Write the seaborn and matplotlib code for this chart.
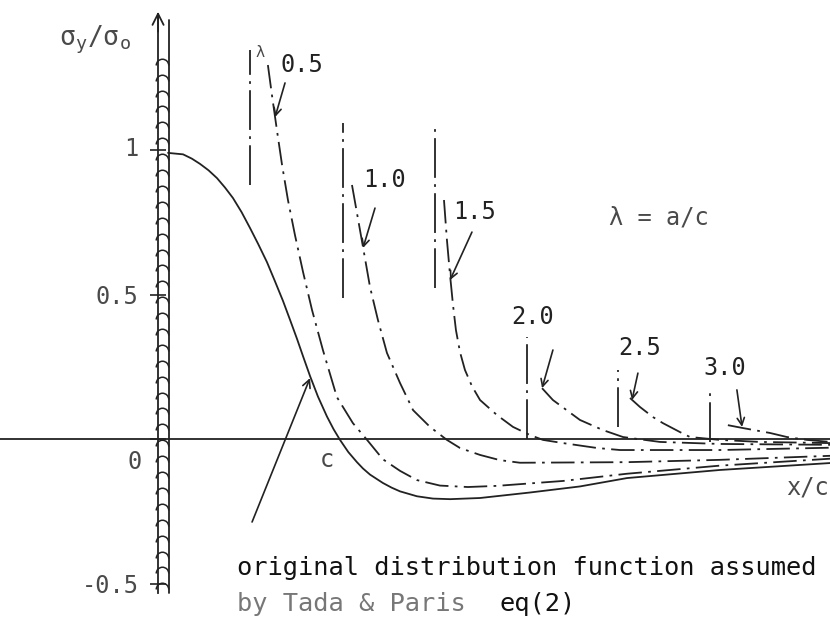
import numpy as np
import pandas as pd
import matplotlib
matplotlib.use("Agg")
import matplotlib.pyplot as plt
import seaborn as sns
from matplotlib.path import Path
from matplotlib.transforms import ScaledTranslation

# ---------------- data (x in x/c-like units) ----------------
x_orig = [0.0, 0.082, 0.13, 0.174, 0.22, 0.266, 0.31, 0.353, 0.40, 0.446, 0.49, 0.538,
          0.58, 0.625, 0.663, 0.701, 0.737, 0.772, 0.815, 0.864, 0.90, 0.935, 0.98,
          1.027, 1.06, 1.098, 1.168, 1.215, 1.261, 1.353, 1.44, 1.533, 1.696, 1.967,
          2.239, 2.495, 3.0, 3.6]
y_orig = [0.99, 0.985, 0.97, 0.952, 0.93, 0.903, 0.87, 0.834, 0.785, 0.730, 0.675, 0.612,
          0.548, 0.478, 0.413, 0.347, 0.281, 0.218, 0.147, 0.078, 0.034, -0.003, -0.045,
          -0.080, -0.102, -0.123, -0.152, -0.168, -0.181, -0.198, -0.206, -0.208, -0.204,
          -0.185, -0.164, -0.135, -0.107, -0.083]

x_l05 = [0.543, 0.565, 0.592, 0.620, 0.652, 0.690, 0.734, 0.783, 0.842, 0.918, 1.005,
         1.082, 1.168, 1.261, 1.353, 1.478, 1.63, 1.788, 2.147, 2.495, 3.0, 3.6]
y_l05 = [1.294, 1.190, 1.069, 0.948, 0.827, 0.706, 0.578, 0.446, 0.308, 0.145, 0.055,
         -0.003, -0.07, -0.11, -0.142, -0.161, -0.166, -0.162, -0.145, -0.120, -0.092,
         -0.068]

x_l10 = [1.0, 1.06, 1.098, 1.141, 1.19, 1.261, 1.332, 1.424, 1.516, 1.587, 1.696,
         1.804, 1.913, 2.495, 3.0, 3.6]
y_l10 = [0.879, 0.664, 0.526, 0.412, 0.298, 0.194, 0.100, 0.042, -0.003, -0.031,
         -0.055, -0.073, -0.082, -0.08, -0.072, -0.058]

x_l15 = [1.50, 1.516, 1.533, 1.549, 1.565, 1.587, 1.614, 1.652, 1.696, 1.788, 1.875,
         1.967, 2.038, 2.147, 2.332, 2.457, 3.0, 3.6]
y_l15 = [0.827, 0.689, 0.567, 0.464, 0.377, 0.301, 0.239, 0.183, 0.135, 0.083, 0.042,
         0.014, -0.003, -0.014, -0.031, -0.038, -0.038, -0.03]

x_l20 = [2.033, 2.092, 2.239, 2.364, 2.473, 2.674, 3.0, 3.6]
y_l20 = [0.176, 0.135, 0.066, 0.031, 0.007, -0.01, -0.017, -0.02]

x_l25 = [2.511, 2.565, 2.636, 2.69, 2.783, 2.837, 3.0, 3.217, 3.6]
y_l25 = [0.142, 0.111, 0.076, 0.055, 0.024, 0.007, -0.003, -0.01, -0.014]

x_l30 = [3.043, 3.125, 3.272, 3.364, 3.473, 3.6]
y_l30 = [0.048, 0.038, 0.021, 0.007, -0.003, -0.01]

lambda_labels = ["0.5", "1.0", "1.5", "2.0", "2.5", "3.0"]
crack_x = [0.446, 0.951, 1.451, 1.951, 2.446, 2.946]
crack_top = [1.346, 1.093, 1.080, 0.353, 0.239, 0.170]
crack_bot = [0.879, 0.488, 0.522, 0.0, 0.042, -0.010]

ytick_vals = [-0.5, 0.0, 0.5, 1.0]
ytick_labels = ["-0.5", "0", "0.5", "1"]

# ---------------- style ----------------
sns.set_theme(style="white")
plt.rcParams["font.family"] = ["DejaVu Sans Mono", "DejaVu Sans"]
plt.rcParams["mathtext.fontset"] = "dejavusans"

INK = "#222222"
GREY = "#4a4a4a"
LW = 1.3
curve_dash = (0, (13, 3.5, 1.5, 3.5))
vert_dash = (0, (22, 3.5, 1.5, 3.5))
FS = 17

fig = plt.figure(figsize=(8.3, 6.22), dpi=100)
ax = fig.add_axes([0, 0, 1, 1])
ax.set_facecolor("white")
ax.set_xlim(-0.913, 3.598)
ax.set_ylim(-0.633, 1.519)

# zero line
ax.axhline(0, color=INK, lw=LW)

# original distribution (solid)
sns.lineplot(x=x_orig, y=y_orig, ax=ax, color=INK, lw=LW, sort=False, estimator=None)

# redistributed curves (dash-dot)
curves = [(x_l05, y_l05), (x_l10, y_l10), (x_l15, y_l15),
          (x_l20, y_l20), (x_l25, y_l25), (x_l30, y_l30)]
for cx, cy in curves:
    sns.lineplot(x=cx, y=cy, ax=ax, color=INK, lw=LW, sort=False,
                 estimator=None, linestyle=curve_dash)

# crack-tip vertical dash-dot lines
for xv, yt, yb in zip(crack_x, crack_top, crack_bot):
    ax.plot([xv, xv], [yb, yt], color=INK, lw=LW, linestyle=vert_dash)

# ---------------- axis ----------------
axis_x = -0.054
for s in ["top", "right", "bottom"]:
    ax.spines[s].set_visible(False)
ax.spines["left"].set_position(("data", axis_x))
ax.spines["left"].set_bounds(-0.533, 1.47)
ax.spines["left"].set_color(INK)
ax.spines["left"].set_linewidth(LW)
ax.annotate("", xy=(axis_x, 1.488), xytext=(axis_x, 1.40),
            arrowprops=dict(arrowstyle="->", lw=LW, color=INK, mutation_scale=20))
ax.plot([0.005, 0.005], [-0.533, 1.45], color=INK, lw=LW)

# hatch arcs along the boundary
arc = Path.arc(0, 180)
hatch_y = np.arange(-0.52, 1.30, 0.055)
ax.plot(np.full_like(hatch_y, -0.030), hatch_y, linestyle="none", marker=arc,
        markersize=9, markerfacecolor="none", markeredgecolor=INK, markeredgewidth=1.1)

ax.set_xticks([])
ax.set_yticks(ytick_vals, labels=ytick_labels)
ax.tick_params(axis="y", left=True, direction="inout", length=12, width=1.2,
               color=INK, pad=8, labelsize=FS, labelcolor=GREY)
for lab in ax.get_yticklabels():
    if lab.get_text() == "0":
        lab.set_transform(lab.get_transform() + ScaledTranslation(0.03, -0.20, fig.dpi_scale_trans))
    if lab.get_text() == "1":
        lab.set_transform(lab.get_transform() + ScaledTranslation(0.0, 0.04, fig.dpi_scale_trans))
ax.grid(False)

# ---------------- labels ----------------
ax.text(-0.397, 1.381, r"$\mathregular{σ_y/σ_o}$", fontsize=19, color=GREY,
        ha="center", va="center")
ax.text(0.50, 1.336, "λ", fontsize=11, color=GREY, ha="center", va="center")

label_pos = [(0.728, 1.294), (1.179, 0.896), (1.668, 0.785),
             (1.984, 0.422), (2.565, 0.315), (3.027, 0.246)]
for t, (lx, ly) in zip(lambda_labels, label_pos):
    ax.text(lx, ly, t, fontsize=FS, color=INK, ha="center", va="center")

arrow_tail = [(0.636, 1.232), (1.125, 0.799), (1.652, 0.716),
              (2.092, 0.308), (2.554, 0.228), (3.092, 0.170)]
arrow_head = [(0.582, 1.114), (1.060, 0.661), (1.533, 0.550),
              (2.033, 0.176), (2.522, 0.135), (3.120, 0.042)]
for (tx, ty), (hx, hy) in zip(arrow_tail, arrow_head):
    ax.annotate("", xy=(hx, hy), xytext=(tx, ty),
                arrowprops=dict(arrowstyle="->", lw=1.2, color=INK, mutation_scale=13,
                                shrinkA=0, shrinkB=0))
ax.annotate("", xy=(0.772, 0.211), xytext=(0.457, -0.287),
            arrowprops=dict(arrowstyle="->", lw=1.2, color=INK, mutation_scale=14,
                            shrinkA=0, shrinkB=0))

ax.text(2.668, 0.768, "λ = a/c", fontsize=FS, color=GREY, ha="center", va="center")
ax.text(0.864, -0.073, "c", fontsize=FS, color=GREY, ha="center", va="center")
ax.text(3.478, -0.166, "x/c", fontsize=FS, color=GREY, ha="center", va="center")

ax.text(0.375, -0.471, "original distribution function assumed", fontsize=18.3,
        color="#111111", ha="left", va="baseline")
ax.text(0.375, -0.595, "by Tada & Paris", fontsize=18.3, color="#777777",
        ha="left", va="baseline")
ax.text(1.804, -0.595, "eq(2)", fontsize=18.3, color="#111111", ha="left", va="baseline")

fig.savefig("out.png", dpi=100)
